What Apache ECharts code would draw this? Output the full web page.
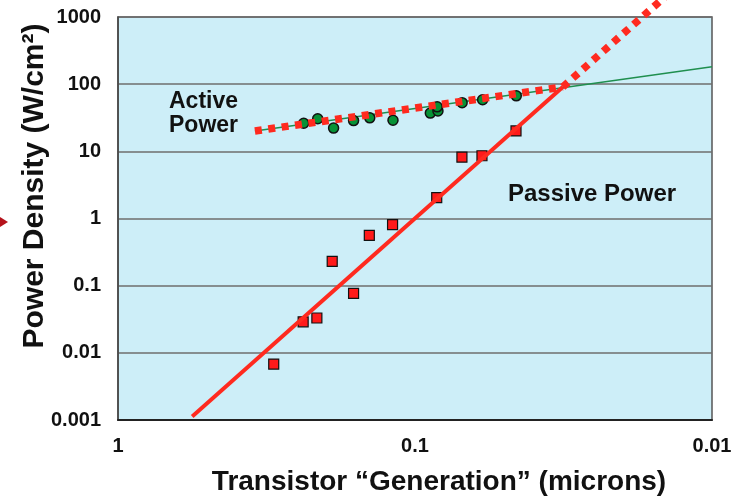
<!DOCTYPE html>
<html><head><meta charset="utf-8">
<script src="https://cdn.jsdelivr.net/npm/echarts@6/dist/echarts.min.js"></script>
<style>html,body{margin:0;padding:0;background:#fff}#c{width:744px;height:498px}</style>
</head><body><div id="c"></div>
<script>
// Passive power measurements (red squares)
const passiveX = [0.299, 0.238, 0.214, 0.19, 0.161, 0.1425, 0.119, 0.0845, 0.0695, 0.0595, 0.0457];
const passiveY = [0.0068, 0.029, 0.033, 0.23, 0.077, 0.56, 0.81, 2.05, 8.2, 8.6, 20.1];
// Active power measurements (green circles)
const activeX = [0.237, 0.2126, 0.188, 0.161, 0.142, 0.1186, 0.0888, 0.0837, 0.0842, 0.0694, 0.0592, 0.0456];
const activeY = [26.2, 30.6, 22.2, 28.7, 31.5, 29, 37.1, 40, 46, 53, 58.5, 67];
// Trend line endpoints
const passiveFitX = [0.5625, 0.0318];
const passiveFitY = [0.00113, 90.8];
const passiveExtX = [0.0318, 0.01];
const passiveExtY = [90.8, 8300];
const activeFitX = [0.346, 0.01];
const activeFitY = [20.1, 181];
const activeDotX = [0.346, 0.0318];
const activeDotY = [20.1, 90.8];
// Tick labels
const yTickLabels = ['0.001', '0.01', '0.1', '1', '10', '100', '1000'];
const xTickLabels = ['0.01', '0.1', '1'];

const zip = (xs, ys) => xs.map((x, i) => [x, ys[i]]);
const FONT = '"Liberation Sans", Arial, sans-serif';
const RED = '#ff2a1f';

const chart = echarts.init(document.getElementById('c'), null, {renderer: 'canvas'});
chart.setOption({
  animation: false,
  backgroundColor: '#ffffff',
  grid: {left: 118, right: 32, top: 17, bottom: 78, show: true,
         backgroundColor: '#cdeef8', borderColor: '#555', borderWidth: 1.5},
  xAxis: {
    type: 'log', logBase: 10, min: 0.01, max: 1, inverse: true,
    axisLine: {show: true, lineStyle: {color: '#222', width: 2}},
    axisTick: {show: false},
    splitLine: {show: false},
    axisLabel: {
      margin: 16, color: '#111', fontFamily: FONT, fontWeight: 'bold', fontSize: 20,
      showMinLabel: true, showMaxLabel: true,
      formatter: v => xTickLabels[Math.round(Math.log10(v)) + 2]
    }
  },
  yAxis: {
    type: 'log', logBase: 10, min: 0.001, max: 1000,
    axisLine: {show: true, lineStyle: {color: '#444', width: 1.5}},
    axisTick: {show: false},
    splitLine: {show: true, lineStyle: {color: '#6e6e6e', width: 1.5}},
    axisLabel: {
      margin: 17, color: '#111', fontFamily: FONT, fontWeight: 'bold', fontSize: 20,
      showMinLabel: true, showMaxLabel: true,
      formatter: v => yTickLabels[Math.round(Math.log10(v)) + 3]
    }
  },
  graphic: [
    {type: 'text', x: 35, y: 186, rotation: Math.PI / 2,
     style: {text: 'Power Density (W/cm²)', fill: '#111', font: 'bold 30px ' + FONT,
             align: 'center', verticalAlign: 'middle'}},
    {type: 'text', x: 439, y: 482,
     style: {text: 'Transistor \u201CGeneration\u201D (microns)', fill: '#111', font: 'bold 28px ' + FONT,
             align: 'center', verticalAlign: 'middle'}},
    {type: 'text', x: 169, y: 90, z: 100,
     style: {text: 'Active\nPower', fill: '#111', font: 'bold 23px ' + FONT, lineHeight: 24,
             align: 'left', verticalAlign: 'top'}},
    {type: 'text', x: 508, y: 194, z: 100,
     style: {text: 'Passive Power', fill: '#111', font: 'bold 24px ' + FONT,
             align: 'left', verticalAlign: 'middle'}},
    {type: 'polygon', shape: {points: [[0, 217], [8, 222], [0, 227]]}, style: {fill: '#b5121b'}}
  ],
  series: [
    {type: 'line', data: zip(activeFitX, activeFitY), symbol: 'none', z: 2,
     lineStyle: {color: '#1f8f4f', width: 1.5}},
    {type: 'scatter', data: zip(activeX, activeY), symbol: 'circle', symbolSize: 10, z: 3,
     itemStyle: {color: '#069236', borderColor: '#111', borderWidth: 1.5, opacity: 1}},
    {type: 'line', data: zip(activeDotX, activeDotY), symbol: 'none', z: 4,
     lineStyle: {color: RED, width: 7.5, type: [7, 6.5], cap: 'butt'}},
    {type: 'scatter', data: zip(passiveX, passiveY), symbol: 'rect', symbolSize: 10, z: 5,
     itemStyle: {color: '#ff1a1a', borderColor: '#111', borderWidth: 1.2, opacity: 1}},
    {type: 'line', data: zip(passiveFitX, passiveFitY), symbol: 'none', z: 6,
     lineStyle: {color: RED, width: 4}},
    {type: 'line', data: zip(passiveExtX, passiveExtY), symbol: 'none', z: 6, clip: false,
     lineStyle: {color: RED, width: 7.5, type: [7, 6.5], cap: 'butt'}}
  ]
});
</script>
</body></html>
